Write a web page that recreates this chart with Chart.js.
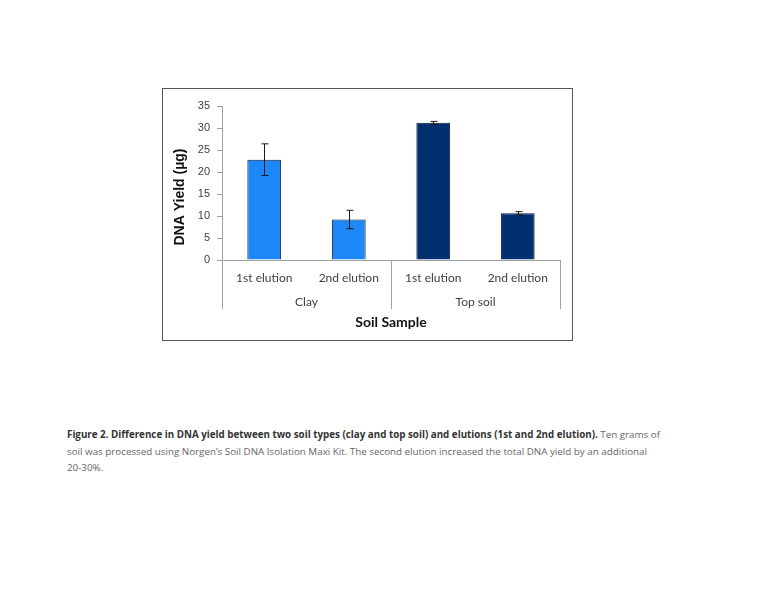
<!DOCTYPE html>
<html>
<head>
<meta charset="utf-8">
<script src="https://cdn.jsdelivr.net/npm/chart.js@4"></script>
<style>
  html, body { margin: 0; padding: 0; background: #fff; }
  #box {
    position: absolute; left: 162px; top: 88px;
    width: 409px; height: 251px;
    border: 1px solid #555;
  }
  #caption {
    position: absolute; left: 67px; top: 427px; width: 640px;
    font-family: "Open Sans", sans-serif; font-size: 9.8px; line-height: 16.6px;
    color: #666;
  }
  #caption b { color: #333; }
</style>
</head>
<body>
<div id="box"><canvas id="chart" width="409" height="251"></canvas></div>
<div id="caption"><b>Figure 2. Difference in DNA yield between two soil types (clay and top soil) and elutions (1st and 2nd elution).</b> Ten grams of<br>soil was processed using Norgen’s Soil DNA Isolation Maxi Kit. The second elution increased the total DNA yield by an additional<br>20-30%.</div>
<script>
const categories = ['1st elution', '2nd elution', '1st elution', '2nd elution']
const groups = ['Clay', 'Top soil']
const yields = [22.8, 9.2, 31.2, 10.6]
const errors = [3.6, 2.1, 0.3, 0.4]
const barColors = ['#1e87f7', '#1e87f7', '#003070', '#003070']
const yTicks = [0, 5, 10, 15, 20, 25, 30, 35]

const axisGrey = '#a0a0a0'

// error bars, group dividers and titles
const extras = {
  id: 'extras',
  afterDatasetsDraw(chart) {
    const { ctx, scales: { x, y } } = chart
    ctx.save()
    ctx.strokeStyle = '#1a1a1a'
    ctx.lineWidth = 1
    yields.forEach((v, i) => {
      const px = Math.round(x.getPixelForValue(i)) + 0.5
      const top = y.getPixelForValue(v + errors[i])
      const bot = y.getPixelForValue(v - errors[i])
      ctx.beginPath()
      ctx.moveTo(px, top); ctx.lineTo(px, bot)
      ctx.moveTo(px - 3, top); ctx.lineTo(px + 4, top)
      ctx.moveTo(px - 3, bot); ctx.lineTo(px + 4, bot)
      ctx.stroke()
    })
    ctx.restore()
  },
  afterDraw(chart) {
    const { ctx, chartArea, scales: { x } } = chart
    const mid = (x.getPixelForValue(1) + x.getPixelForValue(2)) / 2
    const bottom = chartArea.bottom
    ctx.save()
    ctx.strokeStyle = axisGrey
    ctx.lineWidth = 1
    ;[chartArea.left, mid, chartArea.right].forEach(px => {
      const p = Math.round(px) + 0.5
      ctx.beginPath()
      ctx.moveTo(p, bottom); ctx.lineTo(p, bottom + 49)
      ctx.stroke()
    })
    ctx.fillStyle = '#404040'
    ctx.font = '12px Lato'
    ctx.textAlign = 'center'
    ctx.textBaseline = 'middle'
    ctx.fillText(groups[0], (chartArea.left + mid) / 2, bottom + 42)
    ctx.fillText(groups[1], (mid + chartArea.right) / 2, bottom + 42)
    ctx.fillStyle = '#111'
    ctx.font = 'bold 14px Lato'
    ctx.fillText('Soil Sample', (chartArea.left + chartArea.right) / 2, bottom + 62)
    ctx.translate(17, (chartArea.top + chartArea.bottom) / 2 + 14)
    ctx.rotate(-Math.PI / 2)
    ctx.font = 'bold 14px "Liberation Sans"'
    ctx.fillText('DNA Yield (µg)', 0, 0)
    ctx.restore()
  }
}

new Chart(document.getElementById('chart'), {
  type: 'bar',
  data: {
    labels: categories,
    datasets: [{
      data: yields,
      backgroundColor: barColors,
      borderColor: '#0d1a30',
      borderWidth: 1,
      categoryPercentage: 1,
      barPercentage: 0.4,
    }],
  },
  options: {
    responsive: false,
    animation: false,
    layout: { padding: { top: 17, right: 12 } },
    plugins: { legend: { display: false }, tooltip: { enabled: false } },
    scales: {
      x: {
        grid: { display: false },
        border: { display: true, color: axisGrey },
        ticks: { color: '#404040', font: { family: 'Lato', size: 12 }, padding: 3, maxRotation: 0 },
        afterFit: (s) => { s.height = 80 },
      },
      y: {
        min: 0,
        max: 35,
        afterBuildTicks: (s) => { s.ticks = yTicks.map(v => ({ value: v })) },
        grid: { drawOnChartArea: false, drawTicks: true, tickLength: 5, color: axisGrey },
        border: { display: true, color: axisGrey },
        ticks: { color: '#404040', font: { family: 'Liberation Sans', size: 11 }, padding: 7 },
        afterFit: (s) => { s.width = 59 },
      },
    },
  },
  plugins: [extras],
})
</script>
</body>
</html>
